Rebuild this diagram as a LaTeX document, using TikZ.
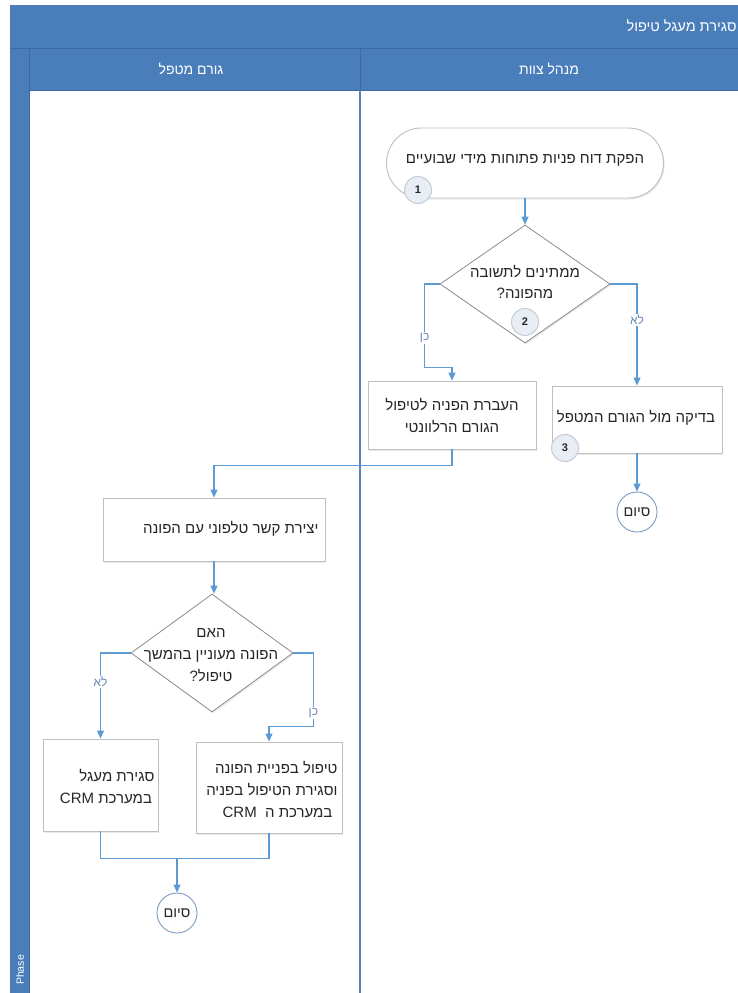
\documentclass[tikz,border=0pt]{standalone}
\usepackage{fontspec}
\setmainfont{Liberation Sans}
\newfontfamily\heb[Script=Hebrew]{Liberation Sans}
\TeXXeTstate=1
\usetikzlibrary{shapes.geometric,arrows.meta,shadows,calc}
\definecolor{hdr}{HTML}{4A7EBB}
\definecolor{hdrline}{HTML}{3B6BA5}
\definecolor{lanediv}{HTML}{5A84B8}
\definecolor{conn}{HTML}{5B9BD5}
\definecolor{boxline}{HTML}{BFBFBF}
\definecolor{dialine}{HTML}{8C8C8C}
\definecolor{endline}{HTML}{7F9AC0}
\definecolor{txt}{HTML}{262626}
\definecolor{lbl}{HTML}{6A89B4}
\definecolor{numfill}{HTML}{E9EEF5}
\definecolor{numline}{HTML}{C3CCD9}
\newcommand\hb[1]{\beginR#1\endR}
\begin{document}
\begin{tikzpicture}[x=1pt,y=-1pt,
  every node/.style={font=\heb\fontsize{15}{22}\selectfont, text=txt},
  shadowed/.style={drop shadow={shadow xshift=1.2pt,shadow yshift=-1.5pt,opacity=0.16}},
  procbox/.style={rectangle, draw=boxline, line width=0.9pt, fill=white, shadowed, inner sep=0pt},
  termbox/.style={rectangle, rounded corners=35pt, draw=boxline, line width=0.9pt, fill=white, shadowed, inner sep=0pt},
  decbox/.style={diamond, draw=dialine, line width=0.8pt, fill=white, shadowed, inner sep=0pt},
  endbox/.style={circle, draw=endline, line width=0.9pt, fill=white, minimum size=40pt, inner sep=0pt, font=\heb\fontsize{14.5}{16}\selectfont},
  numbox/.style={circle, draw=numline, line width=1pt, fill=numfill, minimum size=27pt, inner sep=0pt, font=\bfseries\fontsize{11}{13}\selectfont},
  hdrtext/.style={text=white, font=\heb\fontsize{14}{16}\selectfont},
  flow/.style={draw=conn, line width=1.1pt, -{Triangle[length=8pt,width=7pt]}},
  plain/.style={draw=conn, line width=1.1pt},
  lab/.style={fill=white, inner sep=1pt, text=lbl, font=\heb\fontsize{12}{14}\selectfont}
]
\useasboundingbox (0,0) rectangle (738,993);
\fill[white] (0,0) rectangle (738,993);
% swimlane frame
\fill[hdr] (10,5) rectangle (738,48);
\fill[hdr] (10,48) rectangle (738,90);
\fill[hdr] (10,90) rectangle (29,993);
\draw[hdrline, line width=0.8pt] (10,48) -- (738,48);
\draw[hdrline, line width=0.8pt] (29,48) -- (29,993);
\draw[hdrline, line width=0.8pt] (29,90) -- (738,90);
\draw[hdrline, line width=0.8pt] (360,48) -- (360,90);
\draw[lanediv, line width=1.2pt] (360,90) -- (360,993);
\node[hdrtext, anchor=east, font=\heb\fontsize{14.5}{16}\selectfont] (ttl) at (740,26) {\hb{סגירת מעגל טיפול}};
\node[hdrtext] (h1) at (191,69) {\hb{גורם מטפל}};
\node[hdrtext] (h2) at (549,69) {\hb{מנהל צוות}};
\node[text=white, rotate=90, font=\fontsize{10.5}{12}\selectfont] (ph) at (20,970) {Phase};

% right lane
\node[termbox, minimum width=277pt, minimum height=70pt] (n1) at (525,163) {};
\node (n1t) at (525,160) {\hb{הפקת דוח פניות פתוחות מידי שבועיים}};
\node[numbox] (c1) at (418,190) {1};

\node[decbox, minimum width=170pt, minimum height=118pt] (d2) at (525,284) {};
\node[align=center, font=\heb\fontsize{15}{21}\selectfont] (d2t) at (525,282) {\hb{ממתינים לתשובה}\\\hb{מהפונה?}};
\node[numbox] (c2) at (525,322) {2};

\node[procbox, minimum width=168pt, minimum height=68pt] (b6) at (452,415) {};
\node[align=center] (b6t) at (452,416) {\hb{העברת הפניה לטיפול}\\\hb{הגורם הרלוונטי}};

\node[procbox, minimum width=170pt, minimum height=67pt] (b7) at (637,419.5) {};
\node (b7t) at (636,418) {\hb{בדיקה מול הגורם המטפל}};
\node[numbox] (c3) at (565,448) {3};

\node[endbox] (e1) at (637,512) {\hb{סיום}};

% left lane
\node[procbox, minimum width=222pt, minimum height=63pt] (b10) at (214,529.5) {};
\node[anchor=east] (b10t) at (322,529) {\hb{יצירת קשר טלפוני עם הפונה}};

\node[decbox, minimum width=162pt, minimum height=118pt] (d12) at (212,653) {};
\node[align=center] (d12t) at (211,655) {\hb{האם}\\\hb{הפונה מעוניין בהמשך}\\\hb{טיפול?}};

\node[procbox, minimum width=115pt, minimum height=92pt] (b15) at (100.5,785) {};
\node[anchor=east, align=right] (b15t) at (158,787) {\hb{סגירת מעגל}\\\hb{במערכת \beginL CRM\endL}\,};

\node[procbox, minimum width=146pt, minimum height=91pt] (b16) at (269,787.5) {};
\node[anchor=east, align=right] (b16t) at (341,790) {\hb{טיפול בפניית הפונה}\\\hb{וסגירת הטיפול בפניה}\\\hb{במערכת ה \ \beginL CRM\endL}\,\,};

\node[endbox] (e2) at (177,913) {\hb{סיום}};

% connectors
\draw[flow] (n1.south) -- (d2.north);
\draw[flow] (d2.west) -- ++(-15,0) coordinate (k1) |- ($(b6.north)+(0,-13)$) coordinate (k2) -- (b6.north);
\node[lab] (l1) at ($(k1)+(0,54)$) {\hb{כן}};
\draw[flow] (d2.east) -| (b7.north);
\node[lab] (l2) at (637,320) {\hb{לא}};
\draw[flow] (b7.south) -- (e1.north);
\draw[flow] (b6.south) -- ++(0,16) coordinate (k3) -| (b10.north);
\draw[flow] (b10.south) -- (b10.south |- d12.north);
\draw[flow] (d12.west) -| (b15.north);
\node[lab] (l3) at (100.5,682) {\hb{לא}};
\draw[flow] (d12.east) -- ++(20,0) coordinate (k4) |- ($(b16.north)+(0,-15)$) coordinate (k5) -- (b16.north);
\node[lab] (l4) at ($(k4)+(0,60)$) {\hb{כן}};
\draw[plain] (b15.south) -- ++(0,27) coordinate (m1) -| (b16.south);
\draw[flow] (e2.north |- m1) -- (e2.north);
\end{tikzpicture}
\end{document}
